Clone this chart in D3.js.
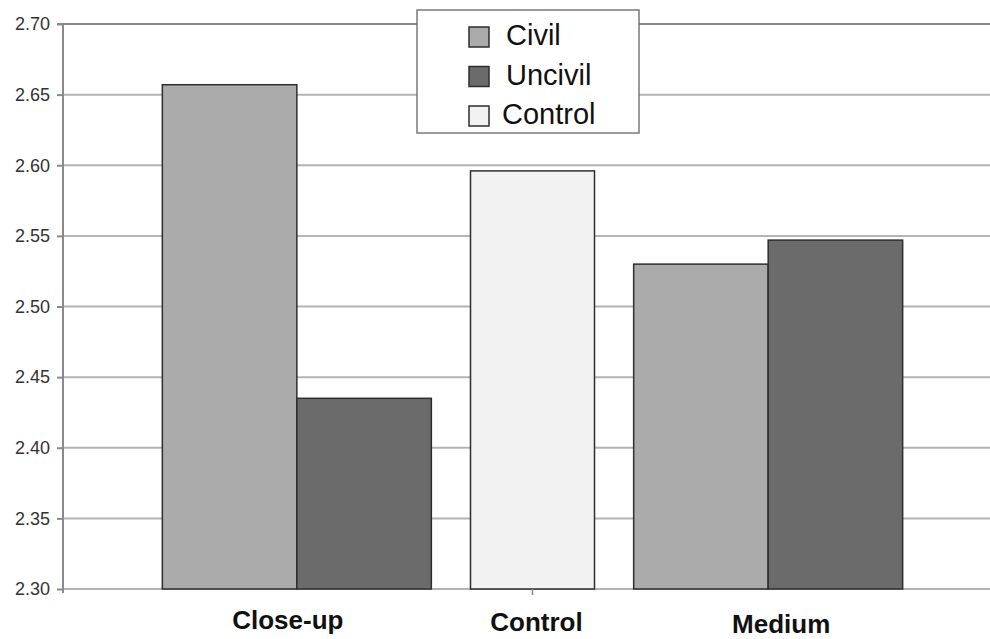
<!DOCTYPE html>
<html>
<head>
<meta charset="utf-8">
<script src="https://cdn.jsdelivr.net/npm/d3@7"></script>
<style>
  html, body { margin: 0; padding: 0; background: #fff; }
  svg { display: block; }
</style>
</head>
<body>
<svg id="chart" width="990" height="639"></svg>
<script>
// ---- data ----
const categories = ["Close-up", "Control", "Medium"];
const seriesNames = ["Civil", "Uncivil", "Control"];
const civilValues = [2.657, null, 2.530];
const uncivilValues = [2.435, null, 2.547];
const controlValues = [null, 2.596, null];
const yTicks = [2.30, 2.35, 2.40, 2.45, 2.50, 2.55, 2.60, 2.65, 2.70];

// ---- layout (not data) ----
const colors = { Civil: "#ababab", Uncivil: "#6b6b6b", Control: "#f2f2f2" };
const labelShift = { "Close-up": [-9, 0], "Control": [4, 2], "Medium": [13, 4] };

const svg = d3.select("#chart");
const axisX = 63, plotRight = 990, yTop = 24, yBottom = 589;

const y = d3.scaleLinear().domain([2.30, 2.70]).range([yBottom, yTop]);
const x = d3.scaleBand().domain(categories).range([179, 886]).padding(0);
const pairWidth = 269, singleWidth = 124;
const sub = d3.scaleBand().domain(["Civil", "Uncivil"]).range([-pairWidth / 2, pairWidth / 2]).padding(0);

// gridlines
svg.append("g").selectAll("line")
  .data(yTicks.slice(1))
  .join("line")
  .attr("x1", axisX).attr("x2", plotRight)
  .attr("y1", d => y(d)).attr("y2", d => y(d))
  .attr("stroke", d => d === 2.70 ? "#8a8a8a" : "#b4b4b4")
  .attr("stroke-width", 2);

// bottom axis line
svg.append("line")
  .attr("x1", axisX).attr("x2", plotRight)
  .attr("y1", y(2.30)).attr("y2", y(2.30))
  .attr("stroke", "#b4b4b4").attr("stroke-width", 2);

// y axis
const yAxis = d3.axisLeft(y).tickValues(yTicks).tickFormat(d3.format(".2f")).tickSize(6).tickPadding(7);
const gy = svg.append("g").attr("transform", `translate(${axisX},0)`).call(yAxis);
gy.select(".domain").attr("stroke", "#8a8a8a").attr("stroke-width", 2)
  .attr("d", `M-6,${yTop}H0V${yBottom + 4}`);
gy.selectAll(".tick line").attr("stroke", "#8a8a8a").attr("stroke-width", 2);
gy.selectAll(".tick text")
  .attr("font-family", "Liberation Sans, Arial, sans-serif")
  .attr("font-size", 18).attr("fill", "#333");

// bars
const barRows = [];
categories.forEach((c, i) => {
  if (civilValues[i] != null) barRows.push({ cat: c, series: "Civil", v: civilValues[i], x0: x(c) + x.bandwidth() / 2 + sub("Civil"), w: sub.bandwidth() });
  if (uncivilValues[i] != null) barRows.push({ cat: c, series: "Uncivil", v: uncivilValues[i], x0: x(c) + x.bandwidth() / 2 + sub("Uncivil"), w: sub.bandwidth() });
  if (controlValues[i] != null) barRows.push({ cat: c, series: "Control", v: controlValues[i], x0: x(c) + x.bandwidth() / 2 - singleWidth / 2, w: singleWidth });
});
svg.append("g").selectAll("rect")
  .data(barRows)
  .join("rect")
  .attr("x", d => d.x0)
  .attr("y", d => y(d.v))
  .attr("width", d => d.w)
  .attr("height", d => y(2.30) - y(d.v))
  .attr("fill", d => colors[d.series])
  .attr("stroke", "#2e2e2e")
  .attr("stroke-width", 1.5);

// small tick under Control category
svg.append("line")
  .attr("x1", x("Control") + x.bandwidth() / 2).attr("x2", x("Control") + x.bandwidth() / 2)
  .attr("y1", y(2.30)).attr("y2", y(2.30) + 6)
  .attr("stroke", "#8a8a8a").attr("stroke-width", 1.5);

// category labels
svg.append("g").selectAll("text")
  .data(categories)
  .join("text")
  .attr("x", d => x(d) + x.bandwidth() / 2 + labelShift[d][0])
  .attr("y", d => 629 + labelShift[d][1])
  .attr("text-anchor", "middle")
  .attr("font-family", "Liberation Sans, Arial, sans-serif")
  .attr("font-weight", "bold")
  .attr("font-size", 26)
  .attr("fill", "#111")
  .text(d => d);

// legend
const lg = svg.append("g");
lg.append("rect")
  .attr("x", 417).attr("y", 10).attr("width", 222).attr("height", 123)
  .attr("fill", "#fff").attr("stroke", "#7a7a7a").attr("stroke-width", 1.5);
const legendY = d3.scalePoint().domain(seriesNames).range([37, 116]);
const items = lg.selectAll("g.item").data(seriesNames).join("g").attr("class", "item");
items.append("rect")
  .attr("x", 469).attr("y", d => legendY(d) - 10)
  .attr("width", 20).attr("height", 20)
  .attr("fill", d => colors[d]).attr("stroke", "#2e2e2e").attr("stroke-width", 1.5);
items.append("text")
  .attr("x", d => d === "Control" ? 502 : 506)
  .attr("y", d => legendY(d) + 8)
  .attr("font-family", "Liberation Sans, Arial, sans-serif")
  .attr("font-size", 29)
  .attr("fill", "#111")
  .text(d => d);
</script>
</body>
</html>
